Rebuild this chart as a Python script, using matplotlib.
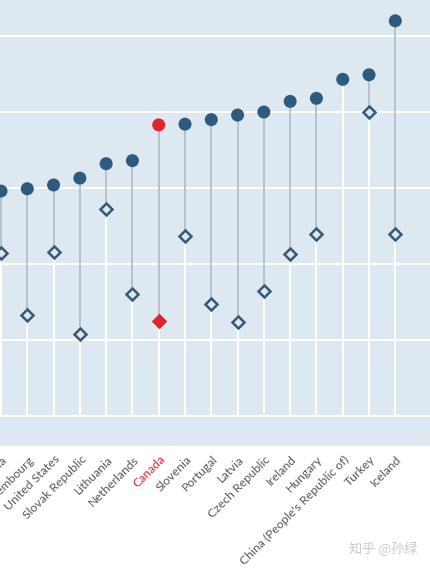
import matplotlib
matplotlib.use("Agg")
import matplotlib.pyplot as plt
import matplotlib.transforms as mtransforms
import numpy as np

countries = ["Estonia", "Luxembourg", "United States", "Slovak Republic", "Lithuania",
             "Netherlands", "Canada", "Slovenia", "Portugal", "Latvia", "Czech Republic",
             "Ireland", "Hungary", "China (People's Republic of)", "Turkey", "Iceland"]
latest = [29.6, 29.9, 30.4, 31.3, 33.2, 33.6, 38.3, 38.4, 39.0, 39.6, 40.0,
          41.4, 41.8, 44.3, 44.9, 52.0]
earlier = [21.4, 13.3, 21.6, 10.8, 27.2, 16.0, 12.5, 23.7, 14.7, 12.4, 16.5,
           21.3, 23.9, np.nan, 40.0, 23.9]
highlight = "Canada"
grid_vals = [0, 10, 20, 30, 40, 50]

BG = "#dde8f1"
BLUE = "#2e5a80"
RED = "#e3232c"
GRAY = "#a9b7c2"

W, H = 431, 568
fig = plt.figure(figsize=(W / 100, H / 100), dpi=100)
ax = fig.add_axes([0, 1 - 446 / H, 430 / W, 446 / H])
ax.set_facecolor(BG)
for s in ax.spines.values():
    s.set_visible(False)

n = len(countries)
x = np.arange(n)
ax.set_xlim(-0.038, 16.32)
ax.set_ylim(-3.95, 54.74)

for g in grid_vals:
    ax.axhline(g, color="white", lw=1.5, zorder=1)

lat = np.array(latest)
ear = np.array(earlier)
# white stems from baseline to the dot
ax.vlines(x, 0, lat, color="white", lw=1.5, zorder=2)
# gray connectors dot -> diamond
mask = ~np.isnan(ear)
ax.vlines(x[mask], ear[mask], lat[mask], color=GRAY, lw=1.2, zorder=3)

cols = [RED if c == highlight else BLUE for c in countries]
ax.scatter(x, lat, s=13.0 ** 2 * (72 / 100) ** 2, c=cols, zorder=5, linewidths=0)

for i in range(n):
    if np.isnan(ear[i]):
        continue
    if countries[i] == highlight:
        ax.plot(x[i], ear[i], marker="D", ms=6.6, mfc=RED, mec=RED, mew=1.8, zorder=6)
    else:
        ax.plot(x[i], ear[i], marker="D", ms=6.6, mfc=BG, mec="#35597b", mew=1.8, zorder=6)

ax.set_xticks([])
ax.set_yticks([])

trans = mtransforms.blended_transform_factory(ax.transData, ax.transAxes)
for i, c in enumerate(countries):
    ax.text(x[i] + 0.03, -0.017, c, transform=trans, rotation=45, rotation_mode="anchor",
            ha="right", va="top", fontsize=8.8, family=["Lato", "DejaVu Sans"],
            color=RED if c == highlight else "#575757", clip_on=False)

fig.text(349 / W, 1 - 549 / H, "知乎 @孙绿", fontsize=9.5, color="#c9c9c9",
         family=["Noto Sans CJK SC", "DejaVu Sans"], va="center", ha="left")

fig.savefig("out.png", dpi=100, facecolor="white")
